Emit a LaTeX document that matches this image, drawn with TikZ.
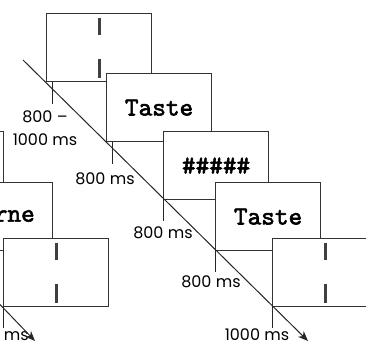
\documentclass[tikz,border=0pt]{standalone}
\usepackage{fontspec}
\newfontfamily\timefont{Poppins}
\newfontfamily\stimmono{lmmono10-regular}[Extension = .otf, FakeBold = 2.2]
\newcommand\stimfont{\stimmono\fontsize{26}{26}\selectfont}
\usetikzlibrary{arrows.meta}
\usetikzlibrary{positioning}
\tikzset {
  trial line/.style = {
    draw = black!85,
    line width = 1pt
  },
  % time axis with its arrow
  time/.style = {
    trial line,
    -{Stealth[length = 10pt, width = 8pt, inset = 3pt]}
  },
  % onset mark below a screen
  tick/.style = {
    trial line
  }
}
\tikzset {
  screen/.style = {
    draw = black!80,
    line width = 1.2pt,
    fill = white,
    rectangle,
    anchor = north west,
    minimum width = 105pt,
    minimum height = 68pt,
    inner sep = 0,
    font = \stimfont
  },
  % fixation screen: two bars
  fixation/.style = {
    screen,
    path picture = {
      \draw[line width = 3pt, black!75]
        ([yshift = -4pt]path picture bounding box.north) -- ++(0, -17pt)
        ([yshift = -45pt]path picture bounding box.north) -- ++(0, -19pt);
    }
  },
  word/.style = {
    font = \stimfont,
    inner sep = 0
  },
  % duration label
  dur/.style = {
    font = \timefont\fontsize{16}{23}\selectfont,
    align = center,
    inner sep = 0
  }
}

\begin{document}
\begin{tikzpicture}[x = 1pt, y = -1pt]
    \useasboundingbox (0, 0) rectangle (366, 345);
    \clip (0, 0) rectangle (366, 345);

    % previous trial
    \node[screen] (mask-c2) at (-102, 131) {};
    \node[screen] (taste-d2) at (-53, 182) {};
    \node[word, anchor = east] (word-d2) at (35, 216) {rne};
    \node[fixation] (fix-e2) at (3, 238) {};
    \coordinate (t2-start) at (-37, 266);
    \coordinate (t2-end) at (35, 341);
    \draw[tick] (fix-e2.south west) -- ++(0, 21);
    \node[dur, anchor = east] (dur-e2) at (29, 335) {1000 ms};
    \draw[time] (t2-start) -- (t2-end);

    % this trial
    \node[fixation] (fix-a) at (46, 13) {};
    \node[screen] (taste-b) at (106, 73) {Taste};
    \node[screen] (mask-c) at (163, 131) {\#\#\#\#\#};
    \node[screen] (taste-d) at (215, 182) {Taste};
    \node[fixation] (fix-e) at (272, 238) {};

    \draw[tick] ([xshift = 6pt]fix-a.south west) -- ++(0, 22);
    \draw[tick] ([xshift = 6pt]taste-b.south west) -- ++(0, 22);
    \draw[tick] (mask-c.south west) -- ++(0, 21);
    \draw[tick] (taste-d.south west) -- ++(0, 21);
    \draw[tick] (fix-e.south west) -- ++(0, 21);

    \node[dur] (dur-a) at (45, 128) {800 \textendash\\1000 ms};
    \node[dur] (dur-b) at (105, 179) {800 ms};
    \node[dur] (dur-c) at (163, 233) {800 ms};
    \node[dur] (dur-d) at (211, 282) {800 ms};
    \node[dur] (dur-e) at (257, 335) {1000 ms};

    \coordinate (t-start) at (23, 60);
    \coordinate (t-end) at (308, 341);
    \draw[time] (t-start) -- (t-end);
  \end{tikzpicture}
\end{document}
